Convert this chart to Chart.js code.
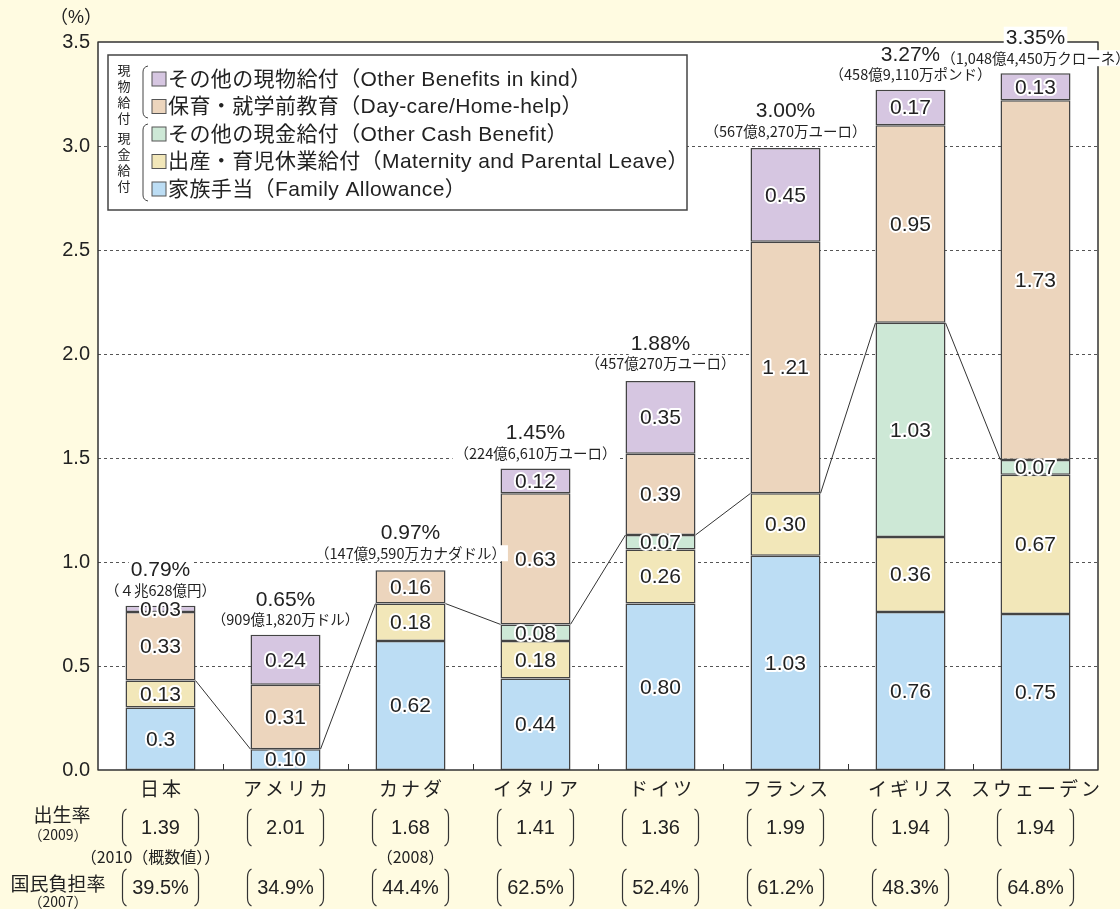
<!DOCTYPE html>
<html>
<head>
<meta charset="utf-8">
<script src="https://cdn.jsdelivr.net/npm/chart.js@4/dist/chart.umd.min.js"></script>
<style>
  body { margin: 0; background: #fffbe1; }
  #wrap { position: relative; width: 1120px; height: 909px; }
</style>
</head>
<body>
<div id="wrap"><canvas id="c" width="1120" height="909"></canvas></div>
<script>
const countries = ['日本', 'アメリカ', 'カナダ', 'イタリア', 'ドイツ', 'フランス', 'イギリス', 'スウェーデン'];

// stacked from the bottom up; null = no segment
const familyAllowance = [0.30, 0.10, 0.62, 0.44, 0.80, 1.03, 0.76, 0.75];
const maternityLeave  = [0.13, null, 0.18, 0.18, 0.26, 0.30, 0.36, 0.67];
const otherCash       = [null, null, null, 0.08, 0.07, null, 1.03, 0.07];
const dayCare         = [0.33, 0.31, 0.16, 0.63, 0.39, 1.21, 0.95, 1.73];
const otherInKind     = [0.03, 0.24, null, 0.12, 0.35, 0.45, 0.17, 0.13];

const totalRates = ['0.79%', '0.65%', '0.97%', '1.45%', '1.88%', '3.00%', '3.27%', '3.35%'];
const totalValues = [0.79, 0.65, 0.97, 1.45, 1.88, 3.00, 3.27, 3.35];
const totalAmounts = ['（４兆628億円）', '（909億1,820万ドル）', '（147億9,590万カナダドル）', '（224億6,610万ユーロ）',
  '（457億270万ユーロ）', '（567億8,270万ユーロ）', '（458億9,110万ポンド）', '（1,048億4,450万クローネ）'];

const birthRate = ['1.39', '2.01', '1.68', '1.41', '1.36', '1.99', '1.94', '1.94'];
const birthNotes = ['（2010（概数値））', '', '（2008）', '', '', '', '', ''];
const burdenRate = ['39.5%', '34.9%', '44.4%', '62.5%', '52.4%', '61.2%', '48.3%', '64.8%'];

// printed labels that differ from plain two-decimal formatting (category-dataset)
const labelOverrides = { '0-0': '0.3', '5-3': '1 .21' };

const seriesNames = [
  'その他の現物給付（Other Benefits in kind）',
  '保育・就学前教育（Day-care/Home-help）',
  'その他の現金給付（Other Cash Benefit）',
  '出産・育児休業給付（Maternity and Parental Leave）',
  '家族手当（Family Allowance）'
];

const COLORS = {
  family: '#bcddf4',
  maternity: '#f2e7b9',
  cash: '#cde8d6',
  daycare: '#ecd5bd',
  kind: '#d6c6e1'
};
const legendColors = [COLORS.kind, COLORS.daycare, COLORS.cash, COLORS.maternity, COLORS.family];

const SANS = '"Liberation Sans", "Noto Sans CJK JP", sans-serif';
const NARROW = '"Liberation Sans Narrow", "Noto Sans CJK JP", sans-serif';
const JP = '"Noto Sans CJK JP", "Liberation Sans", sans-serif';

function mk(label, data, color) {
  return {
    label, data,
    backgroundColor: color,
    borderColor: '#444',
    borderWidth: 1.5,
    borderSkipped: false,
    barPercentage: 0.56,
    categoryPercentage: 1
  };
}

// bracket like （ ） drawn around a value cell
function bracket(ctx, cx, halfW, top, bottom) {
  ctx.beginPath();
  ctx.moveTo(cx - halfW + 4, top);
  ctx.quadraticCurveTo(cx - halfW, top + 2, cx - halfW, top + 8);
  ctx.lineTo(cx - halfW, bottom - 8);
  ctx.quadraticCurveTo(cx - halfW, bottom - 2, cx - halfW + 4, bottom);
  ctx.moveTo(cx + halfW - 4, top);
  ctx.quadraticCurveTo(cx + halfW, top + 2, cx + halfW, top + 8);
  ctx.lineTo(cx + halfW, bottom - 8);
  ctx.quadraticCurveTo(cx + halfW, bottom - 2, cx + halfW - 4, bottom);
  ctx.stroke();
}

function labelWithBg(ctx, text, x, y, font) {
  ctx.font = font;
  const w = ctx.measureText(text).width;
  ctx.fillStyle = '#fff';
  const sz = parseInt(font, 10);
  ctx.fillRect(x - w / 2 - 2, y - sz / 2 - 1, w + 4, sz + 2);
  ctx.fillStyle = '#222';
  ctx.fillText(text, x, y);
}

const decor = {
  id: 'decor',
  beforeDraw(chart) {
    const { ctx, chartArea: a } = chart;
    ctx.save();
    ctx.fillStyle = '#fff';
    ctx.fillRect(a.left, a.top, a.right - a.left, a.bottom - a.top);
    // dotted grid
    const y = chart.scales.y;
    ctx.strokeStyle = '#555';
    ctx.lineWidth = 1;
    ctx.setLineDash([3, 3]);
    for (let v = 0.5; v < 3.5; v += 0.5) {
      const py = Math.round(y.getPixelForValue(v)) + 0.5;
      ctx.beginPath();
      ctx.moveTo(a.left, py);
      ctx.lineTo(a.right, py);
      ctx.stroke();
    }
    ctx.restore();
  },
  afterDatasetsDraw(chart) {
    const { ctx, chartArea: a } = chart;
    const xs = chart.scales.x, ys = chart.scales.y;
    ctx.save();

    // connector lines between the tops of the cash benefits
    const barW = chart.getDatasetMeta(0).data[0].width;
    const cashTop = countries.map((_, i) =>
      (familyAllowance[i] || 0) + (maternityLeave[i] || 0) + (otherCash[i] || 0));
    ctx.strokeStyle = '#333';
    ctx.lineWidth = 1;
    ctx.beginPath();
    for (let i = 0; i < countries.length - 1; i++) {
      ctx.moveTo(xs.getPixelForValue(i) + barW / 2, ys.getPixelForValue(cashTop[i]));
      ctx.lineTo(xs.getPixelForValue(i + 1) - barW / 2, ys.getPixelForValue(cashTop[i + 1]));
    }
    ctx.stroke();

    // segment values with white halo
    ctx.textAlign = 'center';
    ctx.textBaseline = 'middle';
    ctx.font = '21px ' + SANS;
    ctx.lineJoin = 'round';
    chart.data.datasets.forEach((ds, di) => {
      chart.getDatasetMeta(di).data.forEach((el, ci) => {
        const v = ds.data[ci];
        if (v == null) return;
        const t = labelOverrides[ci + '-' + di] || v.toFixed(2);
        const cy = (el.y + el.base) / 2 + 1;
        ctx.strokeStyle = '#fff';
        ctx.lineWidth = 4;
        ctx.strokeText(t, el.x, cy);
        ctx.fillStyle = '#222';
        ctx.fillText(t, el.x, cy);
      });
    });

    // frame
    ctx.strokeStyle = '#333';
    ctx.lineWidth = 1.5;
    ctx.strokeRect(a.left, a.top, a.right - a.left, a.bottom - a.top);
    // small ticks between categories
    ctx.lineWidth = 1;
    ctx.beginPath();
    for (let i = 0; i < countries.length - 1; i++) {
      const px = Math.round((xs.getPixelForValue(i) + xs.getPixelForValue(i + 1)) / 2) + 0.5;
      ctx.moveTo(px, a.bottom);
      ctx.lineTo(px, a.bottom - 6);
    }
    ctx.stroke();

    // totals above bars
    countries.forEach((_, i) => {
      const cx = xs.getPixelForValue(i);
      const top = ys.getPixelForValue(totalValues[i]);
      labelWithBg(ctx, totalAmounts[i], cx, top - 15, '14.5px ' + NARROW);
      labelWithBg(ctx, totalRates[i], cx, top - 35, '21px ' + SANS);
    });
    ctx.restore();
  },
  afterDraw(chart) {
    const { ctx } = chart;
    const xs = chart.scales.x;
    ctx.save();

    // category names
    ctx.textAlign = 'center';
    ctx.textBaseline = 'middle';
    ctx.fillStyle = '#222';
    ctx.font = '19px ' + JP;
    ctx.letterSpacing = '3px';
    countries.forEach((name, i) => ctx.fillText(name, xs.getPixelForValue(i) + 1.5, 789));
    ctx.letterSpacing = '0px';

    // legend box
    ctx.fillStyle = '#fff';
    ctx.fillRect(108, 55, 579, 155);
    ctx.strokeStyle = '#444';
    ctx.lineWidth = 1.5;
    ctx.strokeRect(108, 55, 579, 155);
    ctx.fillStyle = '#222';
    ctx.font = '13px ' + JP;
    ['現', '物', '給', '付'].forEach((ch, k) => ctx.fillText(ch, 124, 70 + k * 16));
    ['現', '金', '給', '付'].forEach((ch, k) => ctx.fillText(ch, 124, 138 + k * 16));
    ctx.strokeStyle = '#444';
    ctx.lineWidth = 1;
    [[66, 118], [124, 201]].forEach(([t, b]) => {
      ctx.beginPath();
      ctx.moveTo(148, t);
      ctx.quadraticCurveTo(143, t + 1, 143, t + 6);
      ctx.lineTo(143, b - 6);
      ctx.quadraticCurveTo(143, b - 1, 148, b);
      ctx.stroke();
    });
    ctx.textAlign = 'left';
    ctx.font = '21px ' + SANS;
    ctx.letterSpacing = '0.4px';
    seriesNames.forEach((name, k) => {
      const ry = 79 + k * 27.5;
      ctx.fillStyle = legendColors[k];
      ctx.fillRect(152, ry - 7, 14, 14);
      ctx.strokeStyle = '#555';
      ctx.strokeRect(152, ry - 7, 14, 14);
      ctx.fillStyle = '#222';
      ctx.fillText(name, 168, ry + 1);
    });
    ctx.letterSpacing = '0px';

    // unit
    ctx.textAlign = 'center';
    ctx.font = '18px ' + SANS;
    ctx.fillText('（%）', 76, 18);

    // table under the axis
    ctx.font = '19px ' + JP;
    ctx.fillText('出生率', 62, 815);
    ctx.fillText('国民負担率', 58, 884);
    ctx.font = '14px ' + NARROW;
    ctx.fillText('（2009）', 58, 835);
    ctx.fillText('（2007）', 58, 902);
    ctx.strokeStyle = '#333';
    ctx.lineWidth = 1.2;
    countries.forEach((_, i) => {
      const cx = xs.getPixelForValue(i);
      bracket(ctx, cx, 38, 809, 846);
      bracket(ctx, cx, 38, 869, 906);
      ctx.fillStyle = '#222';
      ctx.font = '20px ' + SANS;
      ctx.fillText(birthRate[i], cx, 828);
      ctx.fillText(burdenRate[i], cx, 888);
      if (birthNotes[i]) {
        ctx.font = '16px ' + NARROW;
        ctx.fillText(birthNotes[i], i === 0 ? cx - 10 : cx, 857);
      }
    });
    ctx.restore();
  }
};

new Chart(document.getElementById('c'), {
  type: 'bar',
  data: {
    labels: countries,
    datasets: [
      mk(seriesNames[4], familyAllowance, COLORS.family),
      mk(seriesNames[3], maternityLeave, COLORS.maternity),
      mk(seriesNames[2], otherCash, COLORS.cash),
      mk(seriesNames[1], dayCare, COLORS.daycare),
      mk(seriesNames[0], otherInKind, COLORS.kind)
    ]
  },
  options: {
    responsive: false,
    animation: false,
    layout: { padding: { top: 42, right: 22, left: 0, bottom: 109 } },
    plugins: { legend: { display: false }, tooltip: { enabled: false } },
    scales: {
      x: {
        stacked: true,
        grid: { display: false },
        border: { display: false },
        ticks: { display: false },
        afterFit: (s) => { s.height = 30; }
      },
      y: {
        stacked: true,
        min: 0,
        max: 3.5,
        grid: { display: false, drawTicks: false },
        border: { display: false },
        ticks: {
          stepSize: 0.5,
          color: '#222',
          padding: 8,
          font: { family: SANS, size: 20 },
          callback: (v) => v.toFixed(1)
        },
        afterFit: (s) => { s.width = 98; }
      }
    }
  },
  plugins: [decor]
});
</script>
</body>
</html>
